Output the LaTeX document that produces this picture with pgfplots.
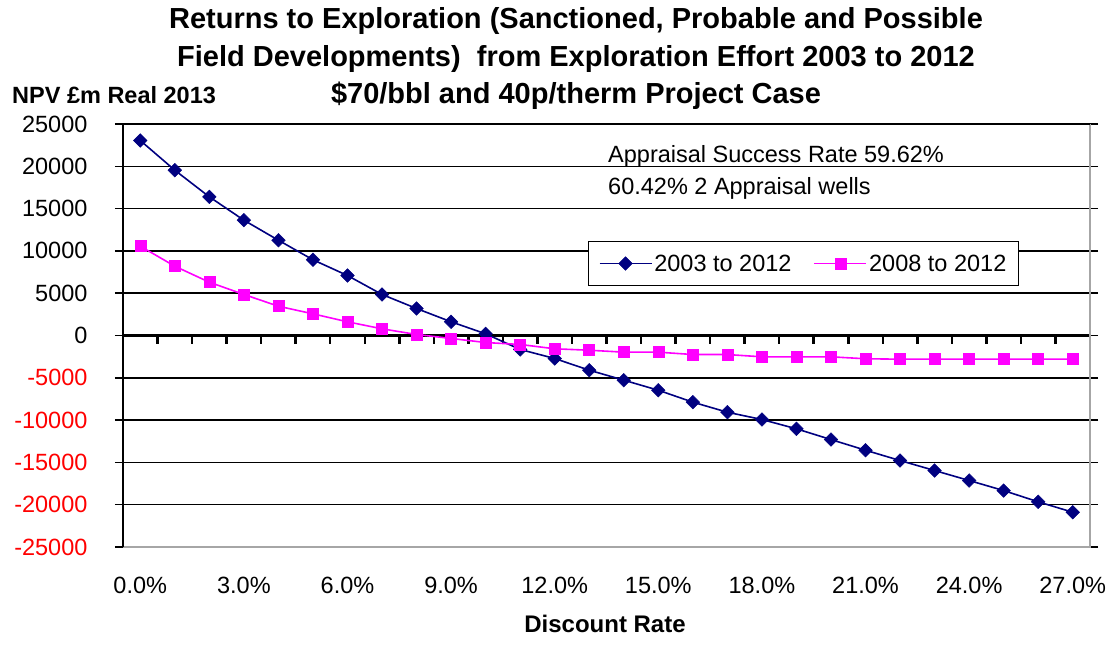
\documentclass[border=0pt]{standalone}
\usepackage{fontspec}
\setmainfont{Liberation Sans}
\usepackage{pgfplots}
\pgfplotsset{compat=1.18}
\definecolor{navyc}{RGB}{0,0,128}
\definecolor{magc}{RGB}{255,0,255}
\newcommand{\lbl}{\fontsize{23.5}{28}\selectfont}
\newcommand{\ttl}{\fontsize{29}{37}\selectfont\bfseries}
\begin{document}
\begin{tikzpicture}[x=1pt,y=1pt]
\path[use as bounding box] (0,0) rectangle (1115,646);
\begin{axis}[
  at={(123pt,99pt)}, anchor=south west,
  scale only axis, width=967pt, height=423pt,
  xmin=-0.5, xmax=27.5, ymin=-25000, ymax=25000,
  scaled y ticks=false,
  axis line style={draw=none},
  ytick={-25000,-20000,...,25000},
  yticklabels={\textcolor{red}{-25000},\textcolor{red}{-20000},\textcolor{red}{-15000},\textcolor{red}{-10000},\textcolor{red}{-5000},0,5000,10000,15000,20000,25000},
  ymajorgrids, major grid style={black, line width=1.5pt},
  ytick style={black, line width=1.5pt},
  tick align=outside, major tick length=8pt,
  xtick={0,3,...,27},
  xticklabels={0.0\%,3.0\%,6.0\%,9.0\%,12.0\%,15.0\%,18.0\%,21.0\%,24.0\%,27.0\%},
  xtick style={draw=none},
  yticklabel style={font=\lbl, anchor=east, xshift=-24pt},
  xticklabel style={font=\lbl, anchor=base, yshift=-38pt},
  legend columns=2,
  legend style={at={(rel axis cs:0.481,0.7234)}, anchor=north west, draw=black, line width=1.2pt, fill=white, font=\lbl, inner xsep=10pt, inner ysep=11pt, /tikz/every even column/.append style={column sep=20pt}},
  legend image code/.code={\draw[mark repeat=2,mark phase=2,#1] plot coordinates {(0pt,0pt) (26pt,0pt) (52pt,0pt)};},
  clip=false,
]
\draw[black, line width=3pt] (axis cs:-0.5,0) -- (axis cs:27.5,0);
\pgfplotsinvokeforeach{-0.5,0.5,...,27.5}{\draw[black, line width=2.5pt] (axis cs:#1,0) -- ++(0pt,-8pt);}
\draw[gray!70, line width=1.4pt] (rel axis cs:0,0) -- (rel axis cs:1,0) -- (rel axis cs:1,1);
\draw[black, line width=1.5pt] (rel axis cs:0,0) -- (rel axis cs:0,1) -- (rel axis cs:1,1);
\addplot[navyc, line width=1.6pt, mark=square*, mark size=4.8pt, mark options={rotate=45, solid, line width=0.5pt}] coordinates {
(0,23050) (1,19540) (2,16390) (3,13630) (4,11260) (5,8950) (6,7090) (7,4850) (8,3190) (9,1620)
(10,200) (11,-1650) (12,-2720) (13,-4100) (14,-5280) (15,-6470) (16,-7880) (17,-9070) (18,-9930) (19,-11030)
(20,-12300) (21,-13560) (22,-14780) (23,-15960) (24,-17140) (25,-18330) (26,-19660) (27,-20890)};
\addlegendentry{2003 to 2012}
\addplot[magc, line width=1.6pt, mark=square*, mark size=5.5pt, mark options={solid, line width=0.5pt}] coordinates {
(0,10560) (1,8190) (2,6300) (3,4850) (4,3460) (5,2560) (6,1620) (7,790) (8,120) (9,-350)
(10,-830) (11,-1060) (12,-1570) (13,-1740) (14,-1970) (15,-1970) (16,-2250) (17,-2250) (18,-2520) (19,-2520)
(20,-2520) (21,-2750) (22,-2800) (23,-2800) (24,-2800) (25,-2800) (26,-2800) (27,-2800)};
\addlegendentry{2008 to 2012}
\end{axis}
\node[anchor=base, font=\ttl] at (576,617) {Returns to Exploration (Sanctioned, Probable and Possible};
\node[anchor=base, font=\ttl] at (576,579) {Field Developments)\ \ from Exploration Effort 2003 to 2012};
\node[anchor=base, font=\ttl] at (576,542) {\$70/bbl and 40p/therm Project Case};
\node[anchor=base west, font=\fontsize{23.5}{28}\selectfont\bfseries, inner sep=0pt] at (12,542) {NPV £m Real 2013};
\node[anchor=base west, font=\lbl, inner sep=0pt] at (608,483) {Appraisal Success Rate 59.62\%};
\node[anchor=base west, font=\lbl, inner sep=0pt] at (608,451) {60.42\% 2 Appraisal wells};
\node[anchor=base, font=\fontsize{24}{28}\selectfont\bfseries] at (605,14) {Discount Rate};
\end{tikzpicture}
\end{document}
